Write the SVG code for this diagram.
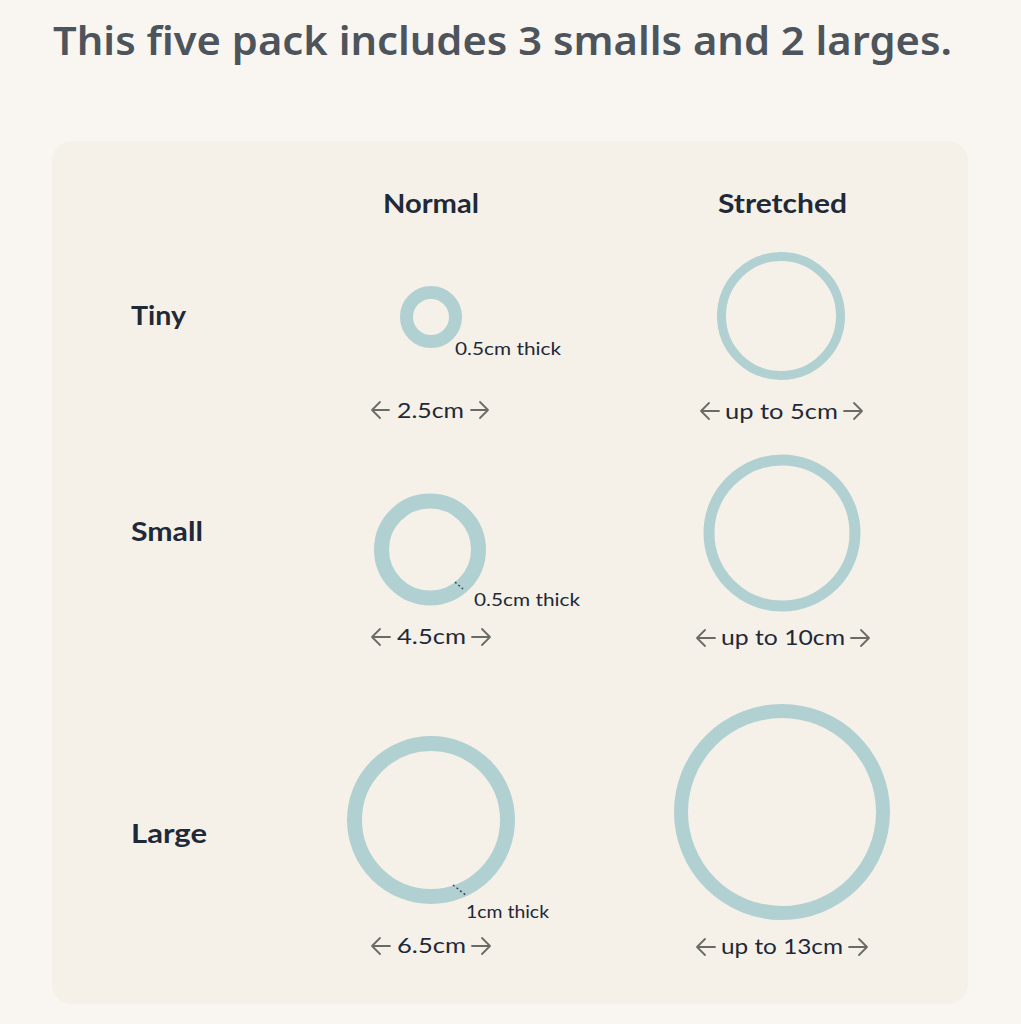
<svg xmlns="http://www.w3.org/2000/svg" width="1021" height="1024" viewBox="0 0 1021 1024">
<defs>
<style>
.title{font-family:"Noto Sans","Liberation Sans",sans-serif;font-weight:600;font-size:40px;fill:#4d545b}
.head{font-family:Lato,"Liberation Sans",sans-serif;font-weight:700;font-size:26px;fill:#1f2937}
.dim{font-family:Lato,"Liberation Sans",sans-serif;font-size:22px;fill:#1f2937}
.note{font-family:Lato,"Liberation Sans",sans-serif;font-size:18px;fill:#1f2937}
.ring{fill:none;stroke:#b1d0d1}
.arr{fill:none;stroke:#6b6b66;stroke-width:1.8;stroke-linecap:round;stroke-linejoin:round}
.tick{stroke:#3a4450;stroke-width:1.5;stroke-dasharray:2 2.5}
</style>
</defs>
<rect x="0" y="0" width="1021" height="1024" fill="#f9f6f2"/>
<text class="title" x="53" y="55" textLength="899" lengthAdjust="spacingAndGlyphs">This five pack includes 3 smalls and 2 larges.</text>
<rect x="52" y="141" width="916" height="863" rx="20" fill="#f5f1e9"/>

<g id="headers">
<text class="head" x="383" y="213" textLength="96" lengthAdjust="spacingAndGlyphs">Normal</text>
<text class="head" x="718" y="213" textLength="129" lengthAdjust="spacingAndGlyphs">Stretched</text>
<text class="head" x="131" y="325" textLength="55" lengthAdjust="spacingAndGlyphs">Tiny</text>
<text class="head" x="131" y="541" textLength="72" lengthAdjust="spacingAndGlyphs">Small</text>
<text class="head" x="131" y="843" textLength="76" lengthAdjust="spacingAndGlyphs">Large</text>
</g>

<g id="tiny-normal">
<circle class="ring" cx="431" cy="317" r="24.5" stroke-width="13"/>
<text class="note" x="455" y="355" textLength="106" lengthAdjust="spacingAndGlyphs">0.5cm thick</text>
<text class="dim" x="397" y="418" textLength="67" lengthAdjust="spacingAndGlyphs">2.5cm</text>
<path class="arr" d="M389 410H372M380 402L372 410L380 418"/>
<path class="arr" d="M471 410H488M480 402L488 410L480 418"/>
</g>

<g id="tiny-stretched">
<circle class="ring" cx="781" cy="316" r="59.5" stroke-width="9"/>
<text class="dim" x="725" y="419" textLength="113" lengthAdjust="spacingAndGlyphs">up to 5cm</text>
<path class="arr" d="M719 411H701M709 403L701 411L709 419"/>
<path class="arr" d="M844 411H862M854 403L862 411L854 419"/>
</g>

<g id="small-normal">
<circle class="ring" cx="430" cy="549.5" r="48.5" stroke-width="15"/>
<line class="tick" x1="455" y1="582" x2="463" y2="589"/>
<text class="note" x="474" y="606" textLength="106" lengthAdjust="spacingAndGlyphs">0.5cm thick</text>
<text class="dim" x="397" y="644" textLength="69" lengthAdjust="spacingAndGlyphs">4.5cm</text>
<path class="arr" d="M390 637H372M380 629L372 637L380 645"/>
<path class="arr" d="M472 637H490M482 629L490 637L482 645"/>
</g>

<g id="small-stretched">
<circle class="ring" cx="782" cy="533" r="73" stroke-width="11"/>
<text class="dim" x="721" y="645" textLength="124" lengthAdjust="spacingAndGlyphs">up to 10cm</text>
<path class="arr" d="M715 638H697M705 630L697 638L705 646"/>
<path class="arr" d="M851 638H869M861 630L869 638L861 646"/>
</g>

<g id="large-normal">
<circle class="ring" cx="431" cy="820" r="76.5" stroke-width="15"/>
<line class="tick" x1="453" y1="885" x2="467" y2="896"/>
<text class="note" x="466" y="918" textLength="83" lengthAdjust="spacingAndGlyphs">1cm thick</text>
<text class="dim" x="397" y="953" textLength="69" lengthAdjust="spacingAndGlyphs">6.5cm</text>
<path class="arr" d="M390 946H372M380 938L372 946L380 954"/>
<path class="arr" d="M472 946H490M482 938L490 946L482 954"/>
</g>

<g id="large-stretched">
<circle class="ring" cx="782" cy="812" r="101" stroke-width="14"/>
<text class="dim" x="721" y="954" textLength="122" lengthAdjust="spacingAndGlyphs">up to 13cm</text>
<path class="arr" d="M715 947H697M705 939L697 947L705 955"/>
<path class="arr" d="M849 947H867M859 939L867 947L859 955"/>
</g>
</svg>
